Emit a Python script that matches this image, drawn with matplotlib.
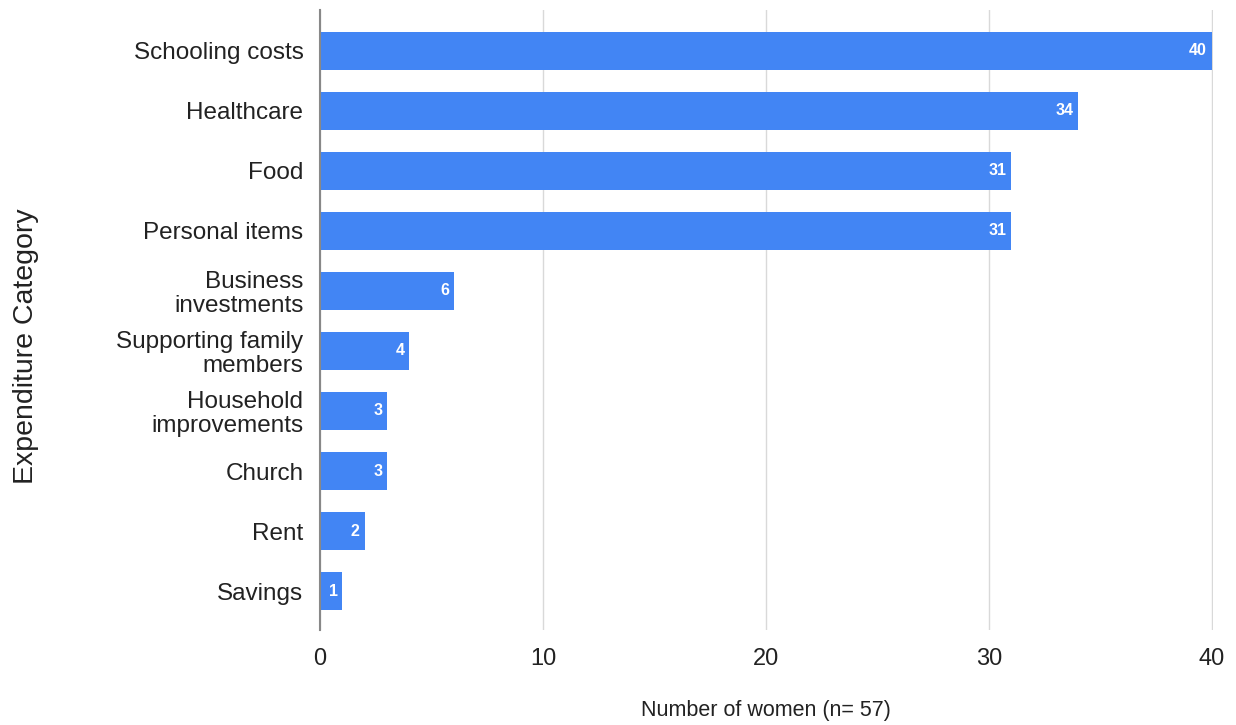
import matplotlib
matplotlib.use("Agg")
import matplotlib.pyplot as plt

categories = ["Schooling costs", "Healthcare", "Food", "Personal items",
              "Business\ninvestments", "Supporting family\nmembers",
              "Household\nimprovements", "Church", "Rent", "Savings"]
counts = [40, 34, 31, 31, 6, 4, 3, 3, 2, 1]
xticks = [0, 10, 20, 30, 40]

plt.rcParams['font.family'] = ['Liberation Sans', 'DejaVu Sans']

fig = plt.figure(figsize=(12.36, 7.25), dpi=100)
ax = fig.add_axes([0.259, 0.131, 0.7225, 0.855])

ypos = list(range(len(categories)))
bars = ax.barh(ypos, counts, height=0.63, color='#4285F4', zorder=3)

for b, v in zip(bars, counts):
    ax.text(b.get_width() - 0.22, b.get_y() + b.get_height() / 2, str(v),
            ha='right', va='center', color='white', fontsize=11.5,
            fontweight='bold', zorder=4)

ax.set_ylim(9.65, -0.68)
ax.set_xlim(0, 40.05)
ax.set_yticks(ypos)
ax.set_yticklabels(categories, fontsize=17.5, color='#222222', linespacing=1.1)
ax.set_xticks(xticks)
ax.set_xticklabels([str(t) for t in xticks], fontsize=17, color='#222222')
ax.tick_params(axis='both', length=0)
ax.tick_params(axis='x', pad=13)
ax.tick_params(axis='y', pad=12)

ax.grid(axis='x', color='#d9d9d9', linewidth=1, zorder=0)
for s in ['top', 'right', 'bottom']:
    ax.spines[s].set_visible(False)
ax.spines['left'].set_color('#888888')
ax.spines['left'].set_linewidth(1.5)
ax.spines['left'].set_zorder(5)

fig.text(0.6195, 0.0205, "Number of women (n= 57)", ha='center', va='center',
         fontsize=15.5, color='#222222')
fig.text(0.021, 0.523, "Expenditure Category", rotation=90, ha='center',
         va='center', fontsize=20.5, color='#222222')

fig.savefig("out.png", dpi=100, facecolor='white')
